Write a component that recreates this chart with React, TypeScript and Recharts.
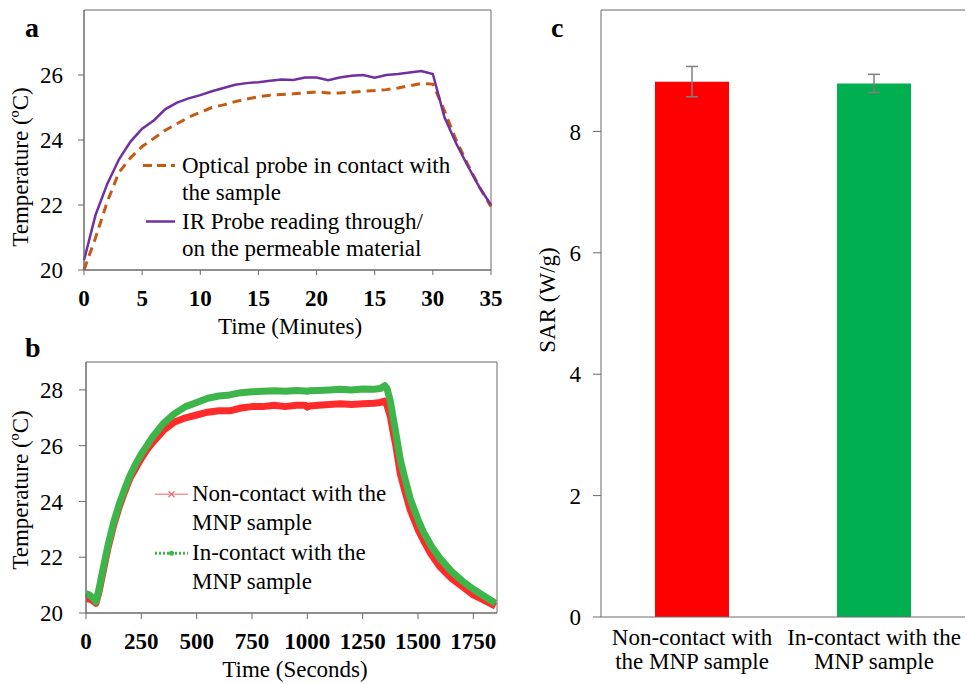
import React from 'react';
import {
  LineChart, Line, XAxis, YAxis, ReferenceArea, Legend,
  BarChart, Bar, Cell, ErrorBar, ReferenceLine,
} from 'recharts';

const FONT = "'Liberation Serif', 'Times New Roman', Times, 'DejaVu Serif', serif";

// ---------- Panel a ----------
const aMinutes = [0, 1, 2, 3, 4, 5, 6, 7, 8, 9, 10, 11, 12, 13, 14, 15, 16, 17, 18, 19, 20, 21, 22, 23, 24, 25, 26, 27, 28, 29, 30, 31, 32, 33, 34, 35];
const aOptical = [20.0, 21.0, 22.1, 23.0, 23.45, 23.8, 24.05, 24.3, 24.5, 24.7, 24.85, 25.0, 25.08, 25.18, 25.26, 25.33, 25.38, 25.4, 25.42, 25.45, 25.48, 25.45, 25.45, 25.47, 25.5, 25.52, 25.55, 25.6, 25.67, 25.74, 25.72, 24.9, 24.0, 23.25, 22.55, 21.95];
const aIR = [20.3, 21.7, 22.65, 23.4, 23.95, 24.35, 24.6, 24.95, 25.15, 25.28, 25.38, 25.5, 25.6, 25.7, 25.75, 25.78, 25.82, 25.86, 25.85, 25.92, 25.92, 25.84, 25.92, 25.98, 26.0, 25.92, 26.0, 26.03, 26.08, 26.12, 26.03, 24.7, 23.9, 23.2, 22.55, 22.0];
const aXTicks = [0, 5, 10, 15, 20, 25, 30, 35];
const aXTickLabels = ['0', '5', '10', '15', '20', '15', '30', '35'];
const aYTicks = [20, 22, 24, 26];
const aLegendOptical = ['Optical probe in contact with', 'the sample'];
const aLegendIR = ['IR Probe reading through/', 'on the permeable material'];

// ---------- Panel b ----------
const bSeconds = [0, 15, 30, 45, 60, 75, 100, 125, 150, 175, 200, 225, 250, 275, 300, 350, 400, 450, 500, 550, 600, 650, 700, 750, 800, 850, 900, 950, 990, 1000, 1010, 1050, 1100, 1150, 1200, 1250, 1300, 1330, 1350, 1360, 1375, 1390, 1400, 1420, 1440, 1465, 1500, 1525, 1560, 1600, 1650, 1700, 1750, 1800, 1850];
const bNonContact = [20.5, 20.5, 20.45, 20.35, 20.8, 21.4, 22.35, 23.15, 23.8, 24.35, 24.85, 25.2, 25.55, 25.85, 26.1, 26.55, 26.85, 27.0, 27.1, 27.2, 27.25, 27.25, 27.35, 27.4, 27.4, 27.45, 27.4, 27.45, 27.45, 27.38, 27.42, 27.45, 27.48, 27.5, 27.48, 27.5, 27.52, 27.55, 27.6, 27.45, 27.05, 26.4, 26.0, 25.0, 24.4, 23.7, 23.0, 22.6, 22.1, 21.65, 21.25, 20.95, 20.65, 20.45, 20.25];
const bInContact = [20.7, 20.65, 20.55, 20.4, 20.9, 21.5, 22.45, 23.25, 23.9, 24.45, 24.95, 25.35, 25.7, 26.0, 26.3, 26.8, 27.15, 27.4, 27.55, 27.7, 27.78, 27.82, 27.9, 27.93, 27.95, 27.97, 27.95, 27.98, 27.96, 27.95, 27.97, 27.98, 28.0, 28.02, 28.0, 28.03, 28.02, 28.05, 28.15, 28.05, 27.6, 26.9, 26.45, 25.5, 24.85, 24.1, 23.35, 22.9, 22.4, 21.95, 21.5, 21.15, 20.85, 20.6, 20.35];
const bXTicks = [0, 250, 500, 750, 1000, 1250, 1500, 1750];
const bYTicks = [20, 22, 24, 26, 28];
const bLegendNon = ['Non-contact with the', 'MNP sample'];
const bLegendIn = ['In-contact with the', 'MNP sample'];

// ---------- Panel c ----------
const cCategories = ['Non-contact with the MNP sample', 'In-contact with the MNP sample'];
const cTickLines = [['Non-contact with', 'the MNP sample'], ['In-contact with the', 'MNP sample']];
const cSAR = [8.82, 8.79];
const cSARError = [0.25, 0.15];
const cColors = ['#FF0000', '#00B050'];
const cYTicks = [0, 2, 4, 6, 8];

const aData = aMinutes.map((t, i) => ({ t, optical: aOptical[i], ir: aIR[i] }));
const bData = bSeconds.map((t, i) => ({ t, non: bNonContact[i], inc: bInContact[i] }));
const cData = cCategories.map((name, i) => ({ name, sar: cSAR[i], err: cSARError[i] }));

const AXIS = '#6b6b6b';
const ORANGE = '#C55A11';
const PURPLE = '#7030A0';
const RED_B = '#FF2B2B';
const GREEN_B = '#3DB54A';

const tickNormal = { fontFamily: FONT, fontSize: 23, fill: '#000' };
const tickBold = { fontFamily: FONT, fontSize: 23, fill: '#000', fontWeight: 'bold' as const };

type LegendItem = { lines: string[]; sample: (w: number, h: number) => React.ReactNode };

function LegendBlock({ items, lineHeight, sampleWidth, gap, itemGap }: { items: LegendItem[]; lineHeight: number; sampleWidth: number; gap: number; itemGap: number }) {
  return (
    <div style={{ fontFamily: FONT, fontSize: 23, lineHeight: `${lineHeight}px`, color: '#000' }}>
      {items.map((it, i) => (
        <div key={i} style={{ display: 'flex', alignItems: 'flex-start', marginTop: i ? itemGap : 0 }}>
          <svg width={sampleWidth} height={lineHeight} style={{ flex: 'none', display: 'block' }}>
            {it.sample(sampleWidth, lineHeight)}
          </svg>
          <div style={{ marginLeft: gap, whiteSpace: 'nowrap' }}>
            {it.lines.map((l, j) => (<div key={j}>{l}</div>))}
          </div>
        </div>
      ))}
    </div>
  );
}

const aLegendItems: LegendItem[] = [
  { lines: aLegendOptical, sample: (w, h) => <line x1={0} x2={w} y1={h / 2} y2={h / 2} stroke={ORANGE} strokeWidth={3} strokeDasharray="9 5" /> },
  { lines: aLegendIR, sample: (w, h) => <line x1={3} x2={w} y1={h / 2} y2={h / 2} stroke={PURPLE} strokeWidth={2.5} /> },
];

const bLegendItems: LegendItem[] = [
  {
    lines: bLegendNon, sample: (w, h) => (
      <g>
        <line x1={0} x2={w} y1={h / 2} y2={h / 2} stroke="#F29A9A" strokeWidth={1.5} />
        <path d={`M${w / 2 - 3},${h / 2 - 3} L${w / 2 + 3},${h / 2 + 3} M${w / 2 - 3},${h / 2 + 3} L${w / 2 + 3},${h / 2 - 3}`} stroke="#F07070" strokeWidth={1.2} />
      </g>
    ),
  },
  {
    lines: bLegendIn, sample: (w, h) => (
      <g>
        <line x1={0} x2={w} y1={h / 2} y2={h / 2} stroke={GREEN_B} strokeWidth={3} strokeDasharray="2 2" />
        <circle cx={w / 2} cy={h / 2} r={2.5} fill={GREEN_B} />
      </g>
    ),
  },
];

function CTick(props: any) {
  const { x, y, index } = props;
  const lines = cTickLines[index] || [];
  return (
    <text x={x} y={y} textAnchor="middle" fontFamily={FONT} fontSize={23} fill="#000">
      {lines.map((l: string, j: number) => (
        <tspan key={j} x={x} y={y + 28 + j * 24}>{l}</tspan>
      ))}
    </text>
  );
}

const titleStyle = { fontFamily: FONT, fontSize: 23, fill: '#000' };

export default function App() {
  return (
    <div style={{ position: 'absolute', left: 0, top: 0, width: 967, height: 684, background: '#fff', overflow: 'hidden', fontFamily: FONT }}>
      {/* Panel a */}
      <div style={{ position: 'absolute', left: 0, top: 0 }}>
        <LineChart width={515} height={345} data={aData} margin={{ top: 10, right: 24, bottom: 45, left: 24 }} style={{ fontFamily: FONT }}>
          <XAxis
            type="number" dataKey="t" domain={[0, 35]} ticks={aXTicks} interval={0}
            tickFormatter={(v: number) => aXTickLabels[aXTicks.indexOf(v)]}
            tick={tickBold} tickSize={5} tickMargin={15} height={30} stroke={AXIS}
            label={() => <text x={290} y={334} textAnchor="middle" style={titleStyle}>Time (Minutes)</text>}
          />
          <YAxis
            type="number" domain={[20, 28]} ticks={aYTicks} interval={0}
            tick={tickNormal} tickSize={6} tickMargin={15} width={60} stroke={AXIS}
            label={() => <text x={28} y={167} transform="rotate(-90, 28, 167)" textAnchor="middle" style={titleStyle}>Temperature (ºC)</text>}
          />
          <ReferenceArea x1={0} x2={35} y1={20} y2={28} fill="none" stroke={AXIS} strokeWidth={1} />
          <Line type="linear" dataKey="optical" name={aLegendOptical.join(' ')} stroke={ORANGE} strokeWidth={3} strokeDasharray="9 6" dot={false} isAnimationActive={false} />
          <Line type="linear" dataKey="ir" name={aLegendIR.join(' ')} stroke={PURPLE} strokeWidth={2.5} dot={false} isAnimationActive={false} />
          <Legend
            layout="horizontal" verticalAlign="middle" align="center"
            wrapperStyle={{ left: 143, top: 152, width: 330, height: 'auto' }}
            content={() => <LegendBlock items={aLegendItems} lineHeight={27} sampleWidth={32} gap={7} itemGap={2} />}
          />
        </LineChart>
      </div>

      {/* Panel b */}
      <div style={{ position: 'absolute', left: 0, top: 345 }}>
        <LineChart width={525} height={339} data={bData} margin={{ top: 17, right: 28, bottom: 41, left: 26 }} style={{ fontFamily: FONT }}>
          <XAxis
            type="number" dataKey="t" domain={[0, 1857]} ticks={bXTicks} interval={0}
            tick={tickBold} tickSize={6} tickMargin={14} height={30} stroke={AXIS}
            label={() => <text x={295} y={332} textAnchor="middle" style={titleStyle}>Time (Seconds)</text>}
          />
          <YAxis
            type="number" domain={[20, 29]} ticks={bYTicks} interval={0}
            tick={tickNormal} tickSize={7} tickMargin={16} width={60} stroke={AXIS}
            label={() => <text x={28} y={145} transform="rotate(-90, 28, 145)" textAnchor="middle" style={titleStyle}>Temperature (ºC)</text>}
          />
          <ReferenceArea x1={0} x2={1857} y1={20} y2={29} fill="none" stroke={AXIS} strokeWidth={1} />
          <Line type="linear" dataKey="non" name={bLegendNon.join(' ')} stroke={RED_B} strokeWidth={7} strokeLinejoin="round" dot={false} isAnimationActive={false} />
          <Line type="linear" dataKey="inc" name={bLegendIn.join(' ')} stroke={GREEN_B} strokeWidth={7} strokeLinejoin="round" dot={false} isAnimationActive={false} />
          <Legend
            layout="horizontal" verticalAlign="middle" align="center"
            wrapperStyle={{ left: 155, top: 135, width: 320, height: 'auto' }}
            content={() => <LegendBlock items={bLegendItems} lineHeight={28.5} sampleWidth={33} gap={4} itemGap={2} />}
          />
        </LineChart>
      </div>

      {/* Panel c */}
      <div style={{ position: 'absolute', left: 500, top: 0 }}>
        <BarChart width={467} height={684} data={cData} margin={{ top: 10, right: 2, bottom: 7, left: 41 }} barSize={74} style={{ fontFamily: FONT }}>
          <XAxis
            type="category" dataKey="name" interval={0} tick={<CTick />} tickLine={false} tickSize={0} tickMargin={0}
            height={60} stroke={AXIS}
          />
          <YAxis
            type="number" domain={[0, 10]} ticks={cYTicks} interval={0}
            tick={tickNormal} tickSize={8} tickMargin={12} width={60} stroke={AXIS}
            label={() => <text x={55} y={300} transform="rotate(-90, 55, 300)" textAnchor="middle" style={titleStyle}>SAR (W/g)</text>}
          />
          <YAxis yAxisId="frame" orientation="right" type="number" domain={[0, 10]} tick={false} tickLine={false} width={0} stroke={AXIS} />
          <ReferenceLine y={10} stroke={AXIS} strokeWidth={1} />
          <Bar dataKey="sar" isAnimationActive={false}>
            {cData.map((d, i) => (<Cell key={d.name} fill={cColors[i]} />))}
            <ErrorBar dataKey="err" width={6} strokeWidth={1.5} stroke="#7f7f7f" direction="y" />
          </Bar>
        </BarChart>
      </div>

      {/* Panel letters */}
      <svg width={967} height={684} style={{ position: 'absolute', left: 0, top: 0, pointerEvents: 'none' }}>
        <text x={25} y={37} fontFamily={FONT} fontSize={28} fontWeight="bold" fill="#000">a</text>
        <text x={25} y={357} fontFamily={FONT} fontSize={28} fontWeight="bold" fill="#000">b</text>
        <text x={551} y={37} fontFamily={FONT} fontSize={28} fontWeight="bold" fill="#000">c</text>
      </svg>
    </div>
  );
}
